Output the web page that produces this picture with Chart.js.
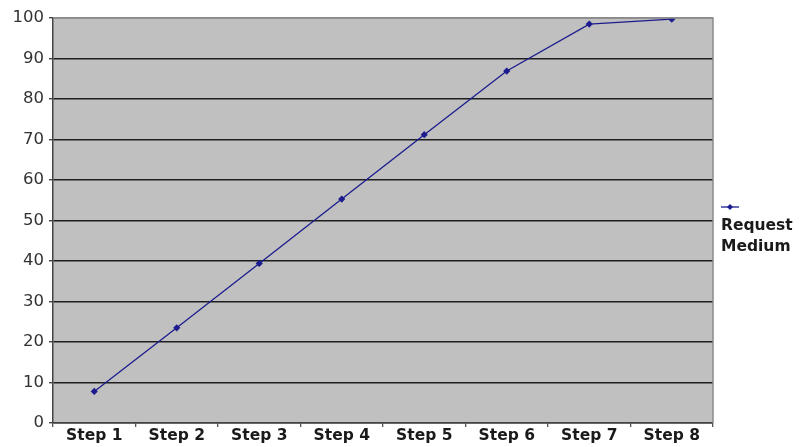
<!DOCTYPE html>
<html>
<head>
<meta charset="utf-8">
<script src="https://cdn.jsdelivr.net/npm/chart.js@4/dist/chart.umd.min.js"></script>
<style>
  html, body { margin: 0; padding: 0; background: #ffffff; }
  #wrap { position: relative; width: 804px; height: 447px; }
</style>
</head>
<body>
<div id="wrap"><canvas id="chart"></canvas></div>
<script>
// Chart data
const categories = ['Step 1', 'Step 2', 'Step 3', 'Step 4', 'Step 5', 'Step 6', 'Step 7', 'Step 8'];
const seriesName = ['Request', 'Medium'];
const requestMedium = [7.8, 23.5, 39.4, 55.3, 71.2, 86.9, 98.5, 99.7];
const yTicks = [0, 10, 20, 30, 40, 50, 60, 70, 80, 90, 100];

const LINE_COLOR = '#1c1c8e';

// Gray plot background with a thin frame
const plotBackground = {
  id: 'plotBackground',
  beforeDraw(chart) {
    const { ctx, chartArea: a } = chart;
    ctx.save();
    ctx.fillStyle = '#c0c0c0';
    ctx.fillRect(a.left, a.top, a.right - a.left, a.bottom - a.top);
    ctx.restore();
  },
  afterDraw(chart) {
    const { ctx, chartArea: a } = chart;
    ctx.save();
    ctx.strokeStyle = '#8a8a8a';
    ctx.lineWidth = 1.5;
    ctx.beginPath();
    ctx.moveTo(a.left, a.top);
    ctx.lineTo(a.right, a.top);
    ctx.lineTo(a.right, a.bottom);
    ctx.stroke();
    ctx.restore();
  }
};

// Legend at the right: short line with a marker, then the two-line series name
const sideLegend = {
  id: 'sideLegend',
  afterDraw(chart) {
    const { ctx } = chart;
    const x = 721, y = 207;
    ctx.save();
    ctx.strokeStyle = LINE_COLOR;
    ctx.lineWidth = 1.3;
    ctx.beginPath();
    ctx.moveTo(x, y);
    ctx.lineTo(x + 18, y);
    ctx.stroke();
    ctx.fillStyle = LINE_COLOR;
    ctx.beginPath();
    ctx.moveTo(x + 9, y - 3);
    ctx.lineTo(x + 12, y);
    ctx.lineTo(x + 9, y + 3);
    ctx.lineTo(x + 6, y);
    ctx.closePath();
    ctx.fill();
    ctx.fillStyle = '#1a1a1a';
    ctx.font = 'bold 15.5px "DejaVu Sans"';
    ctx.textAlign = 'left';
    ctx.textBaseline = 'alphabetic';
    seriesName.forEach((t, i) => ctx.fillText(t, x, 230 + i * 21));
    ctx.restore();
  }
};

new Chart(document.getElementById('chart'), {
  type: 'line',
  data: {
    labels: categories,
    datasets: [{
      label: seriesName.join(' '),
      data: requestMedium,
      borderColor: LINE_COLOR,
      backgroundColor: LINE_COLOR,
      borderWidth: 1.3,
      pointStyle: 'rectRot',
      pointRadius: 3.6,
      pointBorderWidth: 0,
      tension: 0,
      fill: false
    }]
  },
  options: {
    responsive: true,
    maintainAspectRatio: false,
    animation: false,
    layout: { padding: { top: 18, right: 91, left: 0, bottom: 0 } },
    plugins: {
      legend: { display: false },
      tooltip: { enabled: false }
    },
    scales: {
      x: {
        offset: true,
        afterFit(scale) { scale.height = 24; },
        grid: {
          display: true,
          offset: true,
          drawOnChartArea: false,
          drawTicks: true,
          tickLength: 4,
          color: '#555555',
          lineWidth: 1.3
        },
        border: { display: true, color: '#444444', width: 1.5 },
        ticks: {
          color: '#1a1a1a',
          padding: 0,
          maxRotation: 0,
          autoSkip: false,
          font: { family: '"DejaVu Sans"', size: 15.5, weight: 'bold' }
        }
      },
      y: {
        min: 0,
        max: 100,
        afterFit(scale) { scale.width = 53; },
        afterBuildTicks(scale) { scale.ticks = yTicks.map(v => ({ value: v })); },
        grid: {
          drawTicks: true,
          tickLength: 4,
          color: ctx => (ctx.tick && ctx.tick.value === 100) ? '#8a8a8a' : '#1e1e1e',
          tickColor: '#444444',
          lineWidth: 1.4
        },
        border: { display: true, color: '#444444', width: 1.5 },
        ticks: {
          color: '#333333',
          padding: 5,
          font: { family: '"DejaVu Sans"', size: 16.5 }
        }
      }
    }
  },
  plugins: [plotBackground, sideLegend]
});
</script>
</body>
</html>
